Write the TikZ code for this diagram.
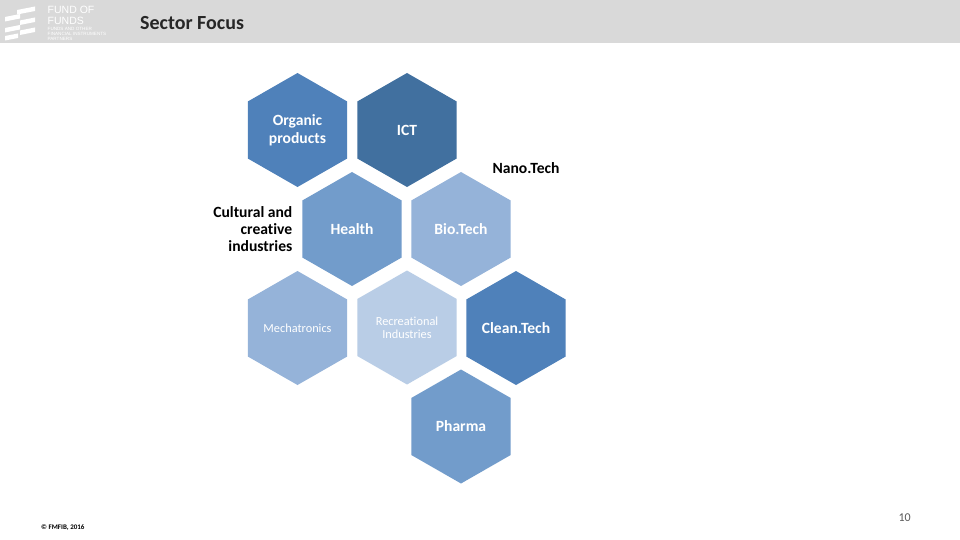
\documentclass[tikz,border=0pt]{standalone}
\usepackage{fontspec}
\setmainfont[Ligatures=NoCommon]{Carlito}
\newfontfamily\logofont{Liberation Sans}
\definecolor{hexA}{HTML}{4F81BA}
\definecolor{hexB}{HTML}{41709F}
\definecolor{hexC}{HTML}{729CCB}
\definecolor{hexD}{HTML}{95B3D9}
\definecolor{hexE}{HTML}{B9CDE6}
\definecolor{band}{HTML}{D9D9D9}
\newcommand{\hexfont}{\fontsize{15.6}{18}\selectfont\bfseries}
\newcommand{\hexsmall}{\fontsize{12.3}{13}\selectfont}
\tikzset{x=1pt,y=-1pt,
  hexshape/.style={fill=#1,draw=none},
  hexlabel/.style={text=white,align=center,font=\hexfont},
  hexlabelsmall/.style={text=white,align=center,font=\hexsmall},
  outlabel/.style={text=black,font=\fontsize{15.6}{17}\selectfont\bfseries},
  logobar/.style={fill=white,draw=none}}
\newcommand{\hexat}[6][hexlabel]{% style, name, x, y, colour, label
  \fill[hexshape=#5] (#3-49.7,#4-28.5) -- (#3,#4-57) -- (#3+49.7,#4-28.5) -- (#3+49.7,#4+28.5) -- (#3,#4+57) -- (#3-49.7,#4+28.5) -- cycle;
  \node[#1] (#2) at (#3,#4) {#6};}
\begin{document}
\begin{tikzpicture}
\useasboundingbox (0,0) rectangle (960,540);
\fill[white] (0,0) rectangle (960,540);
\fill[band] (0,0) rectangle (960,43.5);
% logo
\fill[logobar] (17,10) -- (35,6.5) -- (35,11) -- (17,14.5) -- cycle;
\fill[logobar] (5,17) -- (20,14) -- (20,18.5) -- (5,21.5) -- cycle;
\fill[logobar] (20,20.5) -- (35,17.5) -- (35,22) -- (20,25) -- cycle;
\fill[logobar] (5,28) -- (20,25) -- (20,29.5) -- (5,32.5) -- cycle;
\fill[logobar] (20,30.5) -- (35,27.5) -- (35,32) -- (20,35) -- cycle;
\fill[logobar] (5,36) -- (18,33.5) -- (18,38) -- (5,40.5) -- cycle;
\node[anchor=north west,inner sep=0pt,text=white,align=left,font=\logofont\fontsize{10.5}{11}\selectfont] (logotext) at (47.5,6) {FUND OF\\FUNDS};
\node[anchor=north west,inner sep=0pt,text=white,align=left,font=\logofont\fontsize{4.6}{5}\selectfont] (logosub) at (47.5,27.5) {FUNDS AND OTHER\\FINANCIAL INSTRUMENTS\\PARTNERS};
\node[anchor=base west,inner sep=0pt,text=black!85,font=\fontsize{20}{22}\selectfont\bfseries] (title) at (140,30) {Sector Focus};
% hexagons
\hexat{organic}{297.5}{130}{hexA}{Organic\\products}
\hexat{ict}{407}{130}{hexB}{ICT}
\hexat{health}{352}{229}{hexC}{Health}
\hexat{bio}{461}{229}{hexD}{Bio.Tech}
\hexat[hexlabelsmall]{mech}{297.5}{328}{hexD}{Mechatronics}
\hexat[hexlabelsmall]{rec}{407}{327.5}{hexE}{Recreational\\Industries}
\hexat{clean}{516}{328}{hexA}{Clean.Tech}
\hexat{pharma}{461}{426.5}{hexC}{Pharma}
\node[outlabel,anchor=center] (nano) at (526,168) {Nano.Tech};
\node[outlabel,anchor=east,align=right,inner sep=0pt] (cult) at (292.5,229) {Cultural and\\creative\\industries};
\node[anchor=base west,inner sep=0pt,font=\fontsize{7}{8}\selectfont\bfseries] (copy) at (41,529.5) {© FMFIB, 2016};
\node[anchor=base east,inner sep=0pt,text=black!65,font=\fontsize{12}{14}\selectfont] (page) at (911,521) {10};
\end{tikzpicture}
\end{document}
